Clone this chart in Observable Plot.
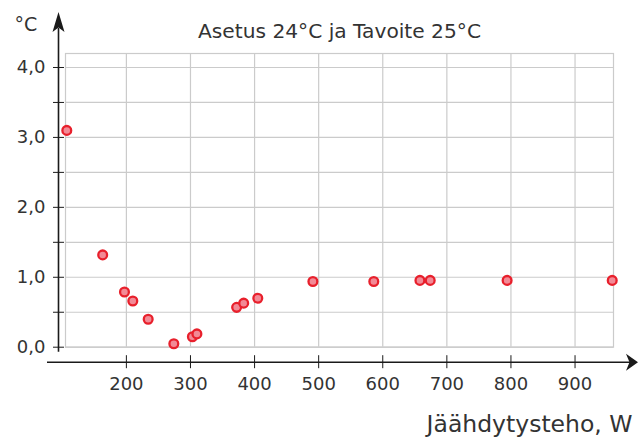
<!DOCTYPE html>
<html>
<head>
<meta charset="utf-8">
<script src="https://cdn.jsdelivr.net/npm/d3@7"></script>
<script src="https://cdn.jsdelivr.net/npm/@observablehq/plot@0.6"></script>
<style>
  html, body { margin: 0; padding: 0; background: #fff; }
  svg { font-family: "DejaVu Sans", sans-serif; }
</style>
</head>
<body>
<div id="chart"></div>
<script>
const title = "Asetus 24°C ja Tavoite 25°C";
const yUnit = "°C";
const xLabel = "Jäähdytysteho, W";

const power = [107, 163, 197, 210, 234, 274, 303, 310, 372, 383, 405, 491, 586, 658, 674, 794, 958];
const diff  = [3.10, 1.32, 0.79, 0.66, 0.40, 0.05, 0.15, 0.19, 0.57, 0.63, 0.70, 0.94, 0.94, 0.955, 0.955, 0.955, 0.955];

const xTicks = [200, 300, 400, 500, 600, 700, 800, 900];
const yTicks = [0, 0.5, 1, 1.5, 2, 2.5, 3, 3.5, 4];
const yLabelTicks = [0, 1, 2, 3, 4];

const data = power.map((p, i) => ({power: p, diff: diff[i]}));

const textColor = "#333";
const gridColor = "#cbcbcb";
const axisColor = "#1a1a1a";

const plot = Plot.plot({
  width: 638,
  height: 440,
  marginLeft: 65,
  marginRight: 25,
  marginTop: 53,
  marginBottom: 93.3,
  x: {domain: [105, 960]},
  y: {domain: [0, 4.2]},
  marks: [
    Plot.gridY(yTicks, {stroke: gridColor, strokeOpacity: 1, strokeWidth: 1.2}),
    Plot.gridX(xTicks, {stroke: gridColor, strokeOpacity: 1, strokeWidth: 1.2}),
    Plot.frame({stroke: gridColor, strokeWidth: 1.2}),
    Plot.axisY(yTicks, {
      label: null, tickSize: 11, dx: -1, tickPadding: 8, stroke: axisColor, fill: textColor,
      fontSize: 18, tickFormat: d => yLabelTicks.includes(d) ? d.toFixed(1).replace(".", ",") : ""
    }),
    Plot.axisX(xTicks, {
      label: null, tickSize: 13, dy: 8.5, tickPadding: 9, stroke: axisColor, fill: textColor,
      fontSize: 18, tickFormat: d => String(d)
    }),
    Plot.dot(data, {x: "power", y: "diff", r: 4.4, fill: "#f28a96", stroke: "#e8202c", strokeWidth: 2.3}),
    Plot.text([title], {text: d => d, frameAnchor: "top", lineAnchor: "middle", dy: -22, fontSize: 20.2, fill: textColor}),
    Plot.text([yUnit], {text: d => d, frameAnchor: "top-left", textAnchor: "start", lineAnchor: "middle", dx: -51, dy: -29, fontSize: 19, fill: textColor}),
    Plot.text([xLabel], {text: d => d, frameAnchor: "bottom-right", textAnchor: "end", lineAnchor: "middle", dx: 19, dy: 77, fontSize: 23.5, fill: textColor})
  ]
});

// axis lines with arrowheads
const svg = d3.select(plot);
const xr = plot.scale("x").range;  // [left, right]
const yr = plot.scale("y").range;  // [bottom, top]
const yAxisX = xr[0] - 6.5;
const xAxisY = yr[0] + 15.5;
const g = svg.append("g").attr("stroke", axisColor).attr("fill", axisColor);
g.append("line").attr("x1", yAxisX).attr("x2", yAxisX).attr("y1", yr[0] + 5).attr("y2", yr[1] - 25).attr("stroke-width", 1.6);
g.append("line").attr("x1", xr[0] - 18).attr("x2", xr[1] + 17).attr("y1", xAxisY).attr("y2", xAxisY).attr("stroke-width", 1.6);
g.append("path").attr("stroke", "none")
  .attr("d", `M${yAxisX},${yr[1] - 41} L${yAxisX + 6},${yr[1] - 21} L${yAxisX},${yr[1] - 25.5} L${yAxisX - 6},${yr[1] - 21} Z`);
g.append("path").attr("stroke", "none")
  .attr("d", `M${xr[1] + 25},${xAxisY} L${xr[1] + 13},${xAxisY - 8.5} L${xr[1] + 16.5},${xAxisY} L${xr[1] + 13},${xAxisY + 8.5} Z`);

document.getElementById("chart").append(plot);
</script>
</body>
</html>
